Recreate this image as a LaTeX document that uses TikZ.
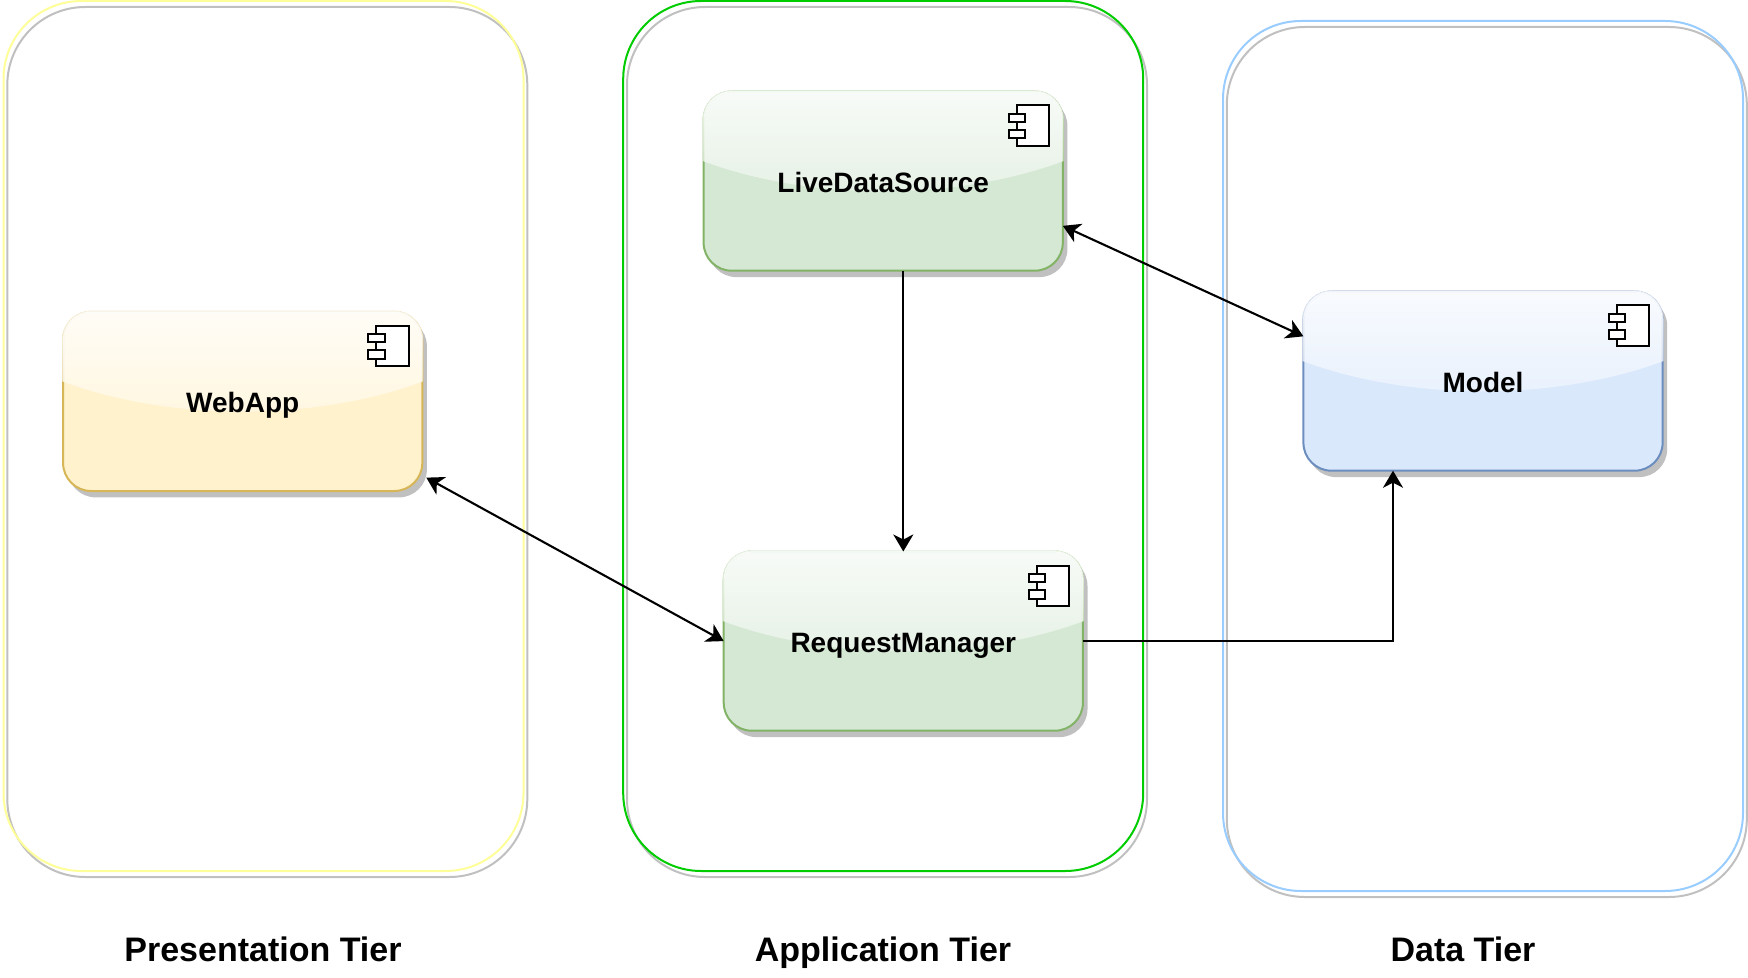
\documentclass[tikz,border=0pt]{standalone}
\usepackage{fontspec}
\setmainfont{Liberation Sans}
\usetikzlibrary{arrows.meta, shadows, fadings, calc}

\definecolor{shadowgray}{HTML}{C0C0C0}
\definecolor{webfill}{HTML}{FFF2CC}
\definecolor{webline}{HTML}{D6B656}
\definecolor{appfill}{HTML}{D5E8D4}
\definecolor{appline}{HTML}{82B366}
\definecolor{datafill}{HTML}{DAE8FC}
\definecolor{dataline}{HTML}{6C8EBF}
\definecolor{webtier}{HTML}{FFFF99}
\definecolor{apptier}{HTML}{00CC00}
\definecolor{datatier}{HTML}{99CCFF}

% Gloss over the upper part of a component
\begin{tikzfadingfrompicture}[name=glossfade, x=1bp, y=1bp]
  \fill[transparent!100] (-50,-50) rectangle (50,50);
  \shade[top color=transparent!8, bottom color=transparent!62]
    (-30,30) -- (30,30) -- (30,5.6) -- (25,5.6) .. controls (10,-5.6) and (-10,-5.6) .. (-25,5.6) -- (-30,5.6) -- cycle;
\end{tikzfadingfrompicture}

\tikzset{
  tier/.style={draw=#1, line width=1pt, rounded corners=39pt, outer sep=0pt,
    minimum width=260pt, minimum height=435pt,
    general shadow={draw=shadowgray, fill=none, shadow xshift=1.9pt, shadow yshift=-3pt}},
  comp/.style n args={2}{draw=#2, fill=#1, line width=1pt, rounded corners=14pt,
    outer sep=0pt, inner sep=0pt, minimum width=179.6pt, minimum height=89.6pt,
    font=\fontsize{14}{16}\selectfont\bfseries, text height=14pt, text depth=2.6pt,
    general shadow={fill=shadowgray, shadow xshift=2.3pt, shadow yshift=-3.2pt},
    postaction={draw=white, fill=white, path fading=glossfade}},
  tierlabel/.style={anchor=base, font=\fontsize{17}{20}\selectfont\bfseries},
  conn/.style={line width=1.05pt, -{Stealth[length=8.5pt, width=10pt, inset=2.5pt]}},
  bothconn/.style={line width=1.05pt, {Stealth[length=8.5pt, width=10pt, inset=2.5pt]}-{Stealth[length=8.5pt, width=10pt, inset=2.5pt]}},
  iconline/.style={line width=1pt, fill=white}
}

\begin{document}
\begin{tikzpicture}[x=0.5pt, y=-0.5pt]
\useasboundingbox (0,0) rectangle (1748,978);

% Tiers
\node[tier=webtier] (presentation) at (263.5,436) {};
\node[tier=apptier] (application) at (883.2,436) {};
\node[tier=datatier] (data) at (1483,456) {};

% Components
\node[comp={webfill}{webline}] (webapp) at (242.7,401.4) {WebApp};
\node[comp={appfill}{appline}] (livesource) at (883.2,181.1) {LiveDataSource};
\node[comp={appfill}{appline}] (requestmgr) at (903.3,641.1) {RequestManager};
\node[comp={datafill}{dataline}] (model) at (1483,381.1) {Model};

% Component icons
\foreach \c in {webapp, livesource, requestmgr, model} {
  \begin{scope}[shift={(\c.north east)}]
    \draw[iconline] (-46,14) rectangle (-13.5,54.5);
    \draw[iconline] (-54,22.5) rectangle (-37.5,30.4);
    \draw[iconline] (-54,38.3) rectangle (-37.5,47);
  \end{scope}
}

% Connectors
\draw[bothconn] ([xshift=2pt]webapp.-23) -- (requestmgr.west);
\draw[conn] (requestmgr.north |- livesource.south) -- (requestmgr.north);
\draw[bothconn] (livesource.-14) -- (model.166);
\draw[conn] (requestmgr.east) -| ([xshift=-45pt]model.south);

% Tier labels
\node[tierlabel] (presentationlabel) at (263,961.7) {Presentation Tier};
\node[tierlabel] (applicationlabel) at (883,961.7) {Application Tier};
\node[tierlabel] (datalabel) at (1463,961.7) {Data Tier};
\end{tikzpicture}
\end{document}
